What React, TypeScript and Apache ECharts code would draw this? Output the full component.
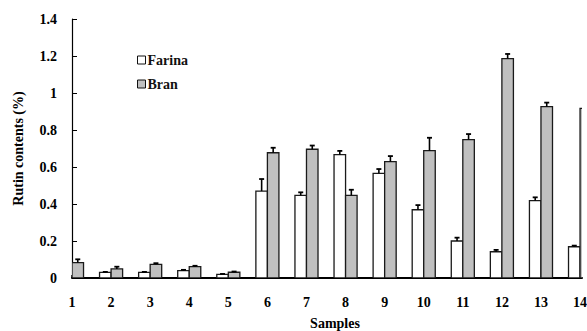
import React, { useEffect, useRef } from "react";
import * as echarts from "echarts";

const samples = [1, 2, 3, 4, 5, 6, 7, 8, 9, 10, 11, 12, 13, 14];
const farina = [null, 0.03, 0.03, 0.04, 0.02, 0.47, 0.447, 0.667, 0.566, 0.369, 0.2, 0.142, 0.418, 0.169];
const farinaErr = [0, 0.003, 0.003, 0.004, 0.002, 0.065, 0.016, 0.02, 0.023, 0.025, 0.018, 0.01, 0.018, 0.006];
const bran = [0.083, 0.049, 0.074, 0.061, 0.031, 0.677, 0.696, 0.447, 0.629, 0.688, 0.748, 1.186, 0.926, 0.917];
const branErr = [0.018, 0.012, 0.006, 0.005, 0.004, 0.027, 0.02, 0.03, 0.03, 0.07, 0.03, 0.025, 0.022, 0];

const FONT = "'Liberation Serif', 'Times New Roman', serif";

function barRenderer(side: number, fill: string) {
  return (params: any, api: any) => {
    const v = api.value(1);
    if (v == null || isNaN(v)) return null;
    const x = api.value(0);
    const p0 = api.coord([x, 0]);
    const p1 = api.coord([x, v]);
    const bw = api.size([1, 0])[0] * 0.295;
    const left = side < 0 ? p0[0] - bw : p0[0];
    return {
      type: "rect",
      shape: { x: left, y: p1[1], width: bw, height: p0[1] - p1[1] },
      style: { fill, stroke: "#1a1a1a", lineWidth: 1.3 },
    };
  };
}

function errRenderer(side: number) {
  return (params: any, api: any) => {
    const v = api.value(1);
    const e = api.value(2);
    if (v == null || isNaN(v) || !e) return null;
    const x = api.value(0);
    const base = api.coord([x, v]);
    const top = api.coord([x, v + e]);
    const bw = api.size([1, 0])[0] * 0.295;
    const cx = base[0] + (side * bw) / 2;
    return {
      type: "group",
      children: [
        { type: "line", shape: { x1: cx, y1: base[1], x2: cx, y2: top[1] }, style: { stroke: "#000", lineWidth: 1.6 } },
        { type: "line", shape: { x1: cx - 2.5, y1: top[1], x2: cx + 2.5, y2: top[1] }, style: { stroke: "#000", lineWidth: 1.8 } },
      ],
    };
  };
}

export default function App() {
  const ref = useRef<HTMLDivElement>(null);
  useEffect(() => {
    document.body.style.margin = "0";
    const chart = echarts.init(ref.current!, null, { renderer: "svg" });
    const farinaData = samples.map((s, i) => [s, farina[i], farinaErr[i]]);
    const branData = samples.map((s, i) => [s, bran[i], branErr[i]]);
    chart.setOption({
      animation: false,
      backgroundColor: "#fff",
      grid: { left: 72, right: 5, top: 19, bottom: 53, containLabel: false, outerBoundsMode: "none" },
      legend: {
        orient: "vertical",
        left: 132,
        top: 48,
        itemWidth: 8,
        itemHeight: 8,
        itemGap: 10,
        icon: "rect",
        textStyle: { fontFamily: FONT, fontWeight: "bold", fontSize: 14, color: "#111", padding: [0, 0, 0, -3] },
        data: [
          { name: "Farina", itemStyle: { color: "#fff", borderColor: "#111", borderWidth: 1 } },
          { name: "Bran", itemStyle: { color: "#c0c0c0", borderColor: "#111", borderWidth: 1 } },
        ],
      },
      xAxis: {
        type: "value",
        min: 1,
        max: 14.05,
        splitLine: { show: false },
        axisLine: { lineStyle: { color: "#000", width: 2 } },
        axisTick: { inside: true, length: 3, lineStyle: { color: "#000", width: 1.5 }, customValues: samples },
        axisLabel: {
          customValues: samples,
          margin: 17,
          fontFamily: FONT,
          fontWeight: "bold",
          fontSize: 14,
          color: "#000",
          formatter: (v: number) => String(v),
        },
        name: "Samples",
        nameLocation: "middle",
        nameGap: 38,
        nameTextStyle: { fontFamily: FONT, fontWeight: "bold", fontSize: 14, color: "#000", padding: [0, 0, 0, 16] },
      },
      yAxis: {
        type: "value",
        min: 0,
        max: 1.4,
        interval: 0.2,
        splitLine: { show: false },
        axisLine: { show: true, lineStyle: { color: "#000", width: 1.2 } },
        axisTick: { show: true, inside: true, length: 5, lineStyle: { color: "#000" } },
        axisLabel: { margin: 15, fontFamily: FONT, fontWeight: "bold", fontSize: 14, color: "#000" },
        name: "Rutin contents (%)",
        nameLocation: "middle",
        nameGap: 47,
        nameRotate: 90,
        nameTextStyle: { fontFamily: FONT, fontWeight: "bold", fontSize: 14, color: "#000" },
      },
      series: [
        { name: "Farina", type: "custom", clip: true, renderItem: barRenderer(-1, "#ffffff"), data: farinaData, encode: { x: 0, y: 1 } },
        { name: "Bran", type: "custom", clip: true, renderItem: barRenderer(1, "#c0c0c0"), data: branData, encode: { x: 0, y: 1 } },
        { name: "FarinaErr", type: "custom", clip: true, renderItem: errRenderer(-1), data: farinaData, encode: { x: 0, y: 1 } },
        { name: "BranErr", type: "custom", clip: true, renderItem: errRenderer(1), data: branData, encode: { x: 0, y: 1 } },
      ],
    });
    return () => chart.dispose();
  }, []);
  return <div ref={ref} style={{ width: 587, height: 331 }} />;
}
